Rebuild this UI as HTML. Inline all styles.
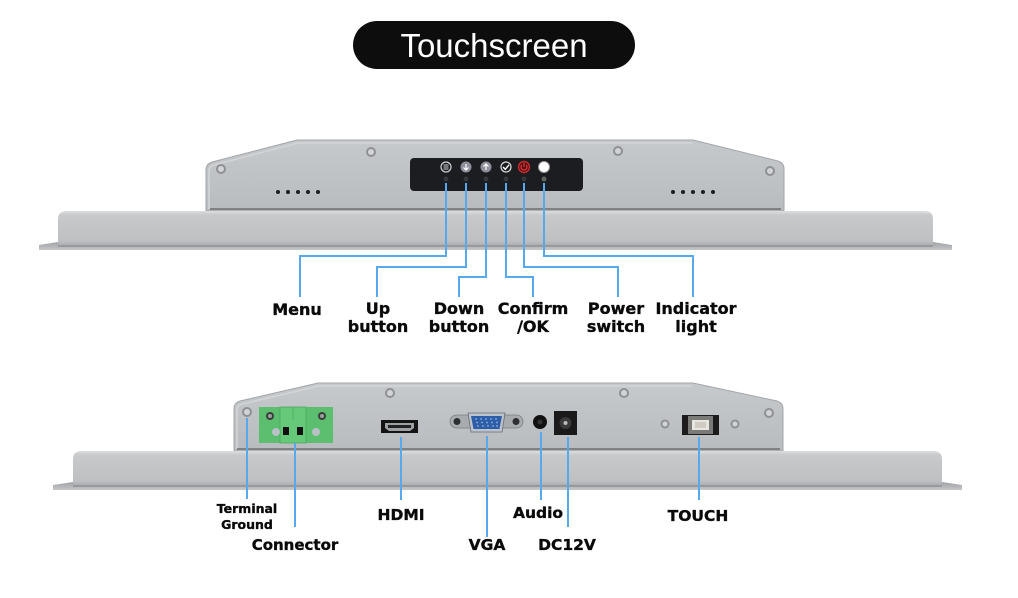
<!DOCTYPE html>
<html>
<head>
<meta charset="utf-8">
<style>
html,body{margin:0;padding:0;background:#fff;}
body{width:1018px;height:598px;overflow:hidden;}
svg{display:block;}
.lbl{font-family:"DejaVu Sans","Liberation Sans",sans-serif;font-weight:bold;fill:#0a0a0a;stroke:#0a0a0a;stroke-width:0.35;text-anchor:middle;}
</style>
</head>
<body>
<svg width="1018" height="598" viewBox="0 0 1018 598" xmlns="http://www.w3.org/2000/svg">
<defs>
  <linearGradient id="hous" x1="0" y1="0" x2="0" y2="1">
    <stop offset="0" stop-color="#c6c9cb"/>
    <stop offset="1" stop-color="#b9bcbf"/>
  </linearGradient>
  <linearGradient id="bez" x1="0" y1="0" x2="0" y2="1">
    <stop offset="0" stop-color="#dcdedf"/>
    <stop offset="0.12" stop-color="#c7c9cb"/>
    <stop offset="0.85" stop-color="#bec0c2"/>
    <stop offset="1" stop-color="#a9abae"/>
  </linearGradient>
  <linearGradient id="lip" x1="0" y1="0" x2="0" y2="1">
    <stop offset="0" stop-color="#9fa1a4"/>
    <stop offset="1" stop-color="#c4c6c8"/>
  </linearGradient>
</defs>

<!-- Title pill -->
<rect x="353" y="21" width="282" height="48" rx="24" fill="#0d0d0d"/>
<text x="494" y="57" font-family="Liberation Sans, sans-serif" font-size="33" fill="#fff" text-anchor="middle">Touchscreen</text>

<!-- ===== TOP DEVICE ===== -->
<path d="M206,211 L206,170 Q206,164 212,162 L297,140 L693,140 L778,161 Q784,163 784,169 L784,211 Z" fill="url(#hous)" stroke="#a3a6a9" stroke-width="1"/>
<path d="M209,209 L209,171 Q209,166 214,165 L298,143 L692,143" fill="none" stroke="#d3d5d7" stroke-width="1.5"/>
<line x1="210" y1="209" x2="781" y2="209" stroke="#7f8285" stroke-width="2"/>
<!-- screws -->
<g fill="#8e9093"><circle cx="221" cy="169" r="5"/><circle cx="371" cy="152" r="5"/><circle cx="618" cy="151" r="5"/><circle cx="770" cy="171" r="5"/></g>
<g fill="#d2d3d4"><circle cx="221" cy="169" r="3"/><circle cx="371" cy="152" r="3"/><circle cx="618" cy="151" r="3"/><circle cx="770" cy="171" r="3"/></g>
<!-- dots -->
<g fill="#1c1c1c">
<circle cx="278" cy="192" r="2"/><circle cx="288" cy="192" r="2"/><circle cx="298" cy="192" r="2"/><circle cx="308" cy="192" r="2"/><circle cx="318" cy="192" r="2"/>
<circle cx="673" cy="192" r="2"/><circle cx="683" cy="192" r="2"/><circle cx="693" cy="192" r="2"/><circle cx="703" cy="192" r="2"/><circle cx="713" cy="192" r="2"/>
</g>
<!-- bezel -->
<path d="M39,245 L58,242 L933,242 L952,245 L952,250 L39,250 Z" fill="url(#lip)"/>
<path d="M58,246 L58,219 Q58,211 67,211 L924,211 Q933,211 933,219 L933,246 Z" fill="url(#bez)"/>
<line x1="58" y1="246" x2="933" y2="246" stroke="#8f9194" stroke-width="1.5"/>

<!-- button panel -->
<rect x="410" y="158" width="173" height="33" rx="4" fill="#1b1d20"/>
<!-- menu -->
<circle cx="446" cy="167" r="5" fill="none" stroke="#cfd0d2" stroke-width="1.2"/>
<g stroke="#cfd0d2" stroke-width="1"><line x1="443.5" y1="165" x2="448.5" y2="165"/><line x1="443.5" y1="167" x2="448.5" y2="167"/><line x1="443.5" y1="169" x2="448.5" y2="169"/></g>
<!-- down -->
<circle cx="466" cy="167" r="5.5" fill="#8d909a"/>
<path d="M466,164 L466,170 M463.5,167.5 L466,170 L468.5,167.5" stroke="#fff" stroke-width="1.2" fill="none"/>
<!-- up -->
<circle cx="486" cy="167" r="5.5" fill="#8d909a"/>
<path d="M486,170 L486,164 M483.5,166.5 L486,164 L488.5,166.5" stroke="#fff" stroke-width="1.2" fill="none"/>
<!-- confirm -->
<circle cx="506" cy="167" r="5" fill="none" stroke="#dcdcdc" stroke-width="1.2"/>
<path d="M503,167 L505.3,169.3 L509,164.8" stroke="#fff" stroke-width="1.4" fill="none"/>
<!-- power -->
<circle cx="524" cy="167" r="5.5" fill="#5a1012" stroke="#c42a2e" stroke-width="1.4"/>
<path d="M521.8,165 A3,3 0 1 0 526.2,165 M524,163 L524,167" stroke="#e0393d" stroke-width="1.1" fill="none"/>
<!-- indicator -->
<circle cx="544" cy="167" r="5.5" fill="#fff" stroke="#9a9a9a" stroke-width="1"/>
<!-- leds -->
<g fill="#34373b"><circle cx="446" cy="179" r="2.5"/><circle cx="466" cy="179" r="2.5"/><circle cx="486" cy="179" r="2.5"/><circle cx="506" cy="179" r="2.5"/><circle cx="524" cy="179" r="2.5"/></g>
<circle cx="544" cy="179" r="2.5" fill="#5c6660"/>

<!-- top connectors -->
<g fill="none" stroke="#58a8ee" stroke-width="2">
<polyline points="446,183 446,256 300,256 300,297"/>
<polyline points="466,183 466,267 377,267 377,297"/>
<polyline points="486,183 486,277 459,277 459,297"/>
<polyline points="506,183 506,277 533,277 533,297"/>
<polyline points="524,183 524,267 618,267 618,297"/>
<polyline points="544,183 544,256 693,256 693,297"/>
</g>

<!-- top labels -->
<g class="lbl" font-size="16">
<text x="297" y="315">Menu</text>
<text x="378" y="314">Up</text><text x="378" y="332">button</text>
<text x="459" y="314">Down</text><text x="459" y="332">button</text>
<text x="533" y="314">Confirm</text><text x="533" y="332">/OK</text>
<text x="616" y="314">Power</text><text x="616" y="332">switch</text>
<text x="696" y="314">Indicator</text><text x="696" y="332">light</text>
</g>

<!-- ===== BOTTOM DEVICE ===== -->
<path d="M234,451 L234,409 Q234,403 240,401 L318,383 L693,383 L777,401 Q783,403 783,409 L783,451 Z" fill="url(#hous)" stroke="#a3a6a9" stroke-width="1"/>
<path d="M237,449 L237,410 Q237,405 242,404 L319,386 L692,386" fill="none" stroke="#d3d5d7" stroke-width="1.5"/>
<line x1="237" y1="449" x2="780" y2="449" stroke="#7f8285" stroke-width="2"/>
<!-- screws -->
<g fill="#8e9093"><circle cx="247" cy="412" r="5"/><circle cx="390" cy="393" r="5"/><circle cx="624" cy="393" r="5"/><circle cx="769" cy="413" r="5"/><circle cx="665" cy="424" r="4.5"/><circle cx="735" cy="424" r="4.5"/></g>
<g fill="#d2d3d4"><circle cx="247" cy="412" r="3"/><circle cx="390" cy="393" r="3"/><circle cx="624" cy="393" r="3"/><circle cx="769" cy="413" r="3"/><circle cx="665" cy="424" r="2.5"/><circle cx="735" cy="424" r="2.5"/></g>

<!-- bezel -->
<path d="M53,485 L73,482 L942,482 L962,485 L962,490 L53,490 Z" fill="url(#lip)"/>
<path d="M73,486 L73,459 Q73,451 82,451 L933,451 Q942,451 942,459 L942,486 Z" fill="url(#bez)"/>
<line x1="73" y1="486" x2="942" y2="486" stroke="#8f9194" stroke-width="1.5"/>

<!-- green terminal block -->
<rect x="259" y="407" width="74" height="36" fill="#5cbe6f"/>
<rect x="280" y="407" width="26" height="36" fill="#66c879" stroke="#4aa95c" stroke-width="0.8"/>
<line x1="293" y1="407" x2="293" y2="420" stroke="#4aa95c" stroke-width="0.8"/>
<circle cx="270" cy="416" r="4" fill="#3b3f3c"/><circle cx="270" cy="416" r="2" fill="#9aa09b"/>
<circle cx="322" cy="416" r="4" fill="#3b3f3c"/><circle cx="322" cy="416" r="2" fill="#9aa09b"/>
<circle cx="276" cy="432" r="4" fill="#b9c1c6"/><circle cx="316" cy="432" r="4" fill="#b9c1c6"/>
<rect x="283" y="427" width="6" height="8" fill="#111"/>
<rect x="297" y="427" width="6" height="8" fill="#111"/>

<!-- HDMI -->
<rect x="381" y="420" width="37" height="13" fill="#141414"/>
<path d="M385,423 L414,423 L414,428 L410,431 L389,431 L385,428 Z" fill="#9ea1a4"/>
<rect x="388" y="425" width="23" height="3" fill="#222"/>

<!-- VGA -->
<rect x="450" y="415" width="73" height="13" rx="6.5" fill="#a9acaf" stroke="#7b7e81" stroke-width="0.8"/>
<circle cx="457" cy="421.5" r="3.5" fill="#2d2f31"/><circle cx="516" cy="421.5" r="3.5" fill="#2d2f31"/>
<path d="M468,413 L505,413 L502,432 L471,432 Z" fill="#bcc3cc" stroke="#676c72" stroke-width="0.8"/>
<path d="M471,416 L502,416 L499.5,429 L473.5,429 Z" fill="#2f5ea8"/>
<g fill="#8fb1e0">
<circle cx="476" cy="419" r="0.9"/><circle cx="481" cy="419" r="0.9"/><circle cx="486" cy="419" r="0.9"/><circle cx="491" cy="419" r="0.9"/><circle cx="496" cy="419" r="0.9"/>
<circle cx="477" cy="422.5" r="0.9"/><circle cx="482" cy="422.5" r="0.9"/><circle cx="487" cy="422.5" r="0.9"/><circle cx="492" cy="422.5" r="0.9"/><circle cx="497" cy="422.5" r="0.9"/>
<circle cx="478" cy="426" r="0.9"/><circle cx="483" cy="426" r="0.9"/><circle cx="488" cy="426" r="0.9"/><circle cx="493" cy="426" r="0.9"/><circle cx="497" cy="426" r="0.9"/>
</g>

<!-- Audio -->
<circle cx="540" cy="422" r="7" fill="#111"/>
<circle cx="540" cy="422" r="2.5" fill="#333"/>

<!-- DC -->
<rect x="554" y="411" width="23" height="24" fill="#1a1a1a"/>
<circle cx="565.5" cy="423" r="6" fill="#3a3a3a"/>
<circle cx="565.5" cy="423" r="2" fill="#bbb"/>

<!-- USB B -->
<rect x="682" y="415" width="37" height="20" fill="#1c1c1c"/>
<rect x="688" y="416" width="25" height="18" fill="#7a7a78"/>
<path d="M692,420 L709,420 L709,430 L692,430 Z" fill="#e8e6e0"/>
<rect x="695" y="422" width="11" height="6" fill="#cfcbc2"/>

<!-- bottom connectors -->
<g fill="none" stroke="#58a8ee" stroke-width="2">
<line x1="247" y1="418" x2="247" y2="499"/>
<line x1="295" y1="443" x2="295" y2="527"/>
<line x1="401" y1="437" x2="401" y2="500"/>
<line x1="487" y1="436" x2="487" y2="537"/>
<line x1="541" y1="432" x2="541" y2="500"/>
<line x1="568" y1="437" x2="568" y2="527"/>
<line x1="699" y1="437" x2="699" y2="500"/>
</g>

<!-- bottom labels -->
<g class="lbl">
<text x="247" y="513" font-size="12.5">Terminal</text>
<text x="247" y="529" font-size="12.5">Ground</text>
<text x="295" y="550" font-size="15">Connector</text>
<text x="401" y="520" font-size="15.5">HDMI</text>
<text x="487" y="550" font-size="15.5">VGA</text>
<text x="538" y="518" font-size="15.5">Audio</text>
<text x="567" y="550" font-size="15.5">DC12V</text>
<text x="698" y="521" font-size="15.5">TOUCH</text>
</g>
</svg>
</body>
</html>
